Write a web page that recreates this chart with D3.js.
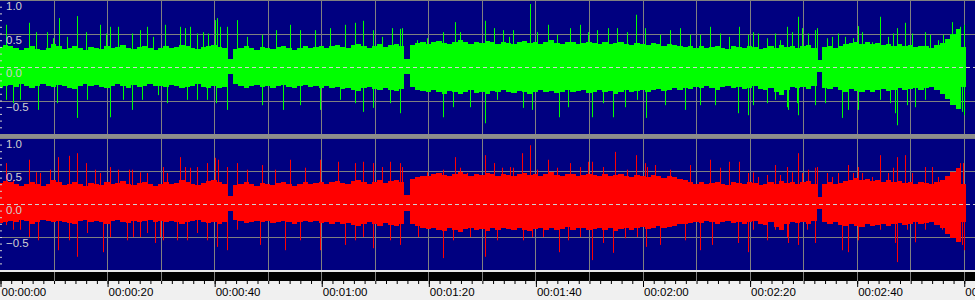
<!DOCTYPE html>
<html>
<head>
<meta charset="utf-8">
<script src="https://cdn.jsdelivr.net/npm/d3@7"></script>
<style>
body { margin: 0; background: #f0f0f0; overflow: hidden; }
svg { display: block; }
</style>
</head>
<body>
<div id="viz"></div>
<script>
// body envelope per second (t = 0..180)
var leftUpper = [
  .30,.33,.31,.28,.26,.29,.31,.27,.25,.28, .34,.32,.27,.29,.31,.28,.26,.30,.29,.27,
  .31,.28,.30,.33,.29,.27,.30,.32,.28,.26, .29,.31,.28,.30,.33,.31,.29,.27,.30,.32,
  .33,.30,.28,.12,.27,.29,.31,.28,.26,.30, .29,.27,.30,.32,.28,.26,.29,.31,.28,.30,
  .32,.29,.31,.33,.30,.28,.33,.35,.31,.29, .32,.34,.30,.33,.35,.32,.12,.33,.36,.38,
  .35,.37,.39,.36,.34,.38,.40,.37,.35,.38, .36,.39,.37,.35,.38,.36,.34,.37,.39,.36,
  .38,.35,.37,.40,.36,.34,.37,.38,.35,.36, .38,.36,.35,.37,.34,.36,.38,.35,.33,.36,
  .35,.33,.36,.34,.32,.35,.33,.31,.30,.32, .29,.31,.28,.30,.32,.29,.27,.31,.30,.28,
  .32,.30,.27,.29,.31,.28,.33,.30,.32,.29, .31,.33,.28,.10,.30,.32,.29,.31,.34,.36,
  .38,.35,.37,.34,.36,.33,.35,.32,.34,.31, .33,.30,.32,.31,.29,.33,.36,.42,.50,.56,
  .30];
var leftLower = [
  -.31,-.29,-.27,-.30,-.26,-.28,-.32,-.29,-.26,-.28, -.30,-.27,-.29,-.31,-.33,-.28,-.26,-.29,-.27,-.30,
  -.32,-.28,-.26,-.29,-.31,-.27,-.30,-.28,-.26,-.29, -.28,-.30,-.27,-.29,-.32,-.30,-.28,-.26,-.30,-.31,
  -.29,-.32,-.30,-.10,-.26,-.28,-.31,-.29,-.27,-.30, -.28,-.31,-.29,-.27,-.30,-.32,-.29,-.27,-.30,-.28,
  -.31,-.29,-.32,-.30,-.33,-.31,-.34,-.36,-.32,-.30, -.33,-.35,-.31,-.34,-.36,-.33,-.10,-.30,-.34,-.36,
  -.38,-.35,-.37,-.40,-.36,-.38,-.41,-.37,-.35,-.39, -.37,-.40,-.36,-.38,-.35,-.37,-.39,-.36,-.38,-.40,
  -.37,-.35,-.38,-.36,-.39,-.37,-.34,-.38,-.36,-.35, -.39,-.37,-.35,-.38,-.36,-.40,-.37,-.35,-.38,-.36,
  -.34,-.37,-.35,-.33,-.36,-.34,-.32,-.35,-.31,-.33, -.30,-.32,-.29,-.31,-.34,-.30,-.28,-.32,-.30,-.33,
  -.31,-.29,-.33,-.35,-.31,-.38,-.42,-.34,-.30,-.32, -.30,-.33,-.29,-.08,-.31,-.33,-.30,-.35,-.37,-.33,
  -.36,-.38,-.34,-.37,-.35,-.33,-.36,-.34,-.32,-.35, -.33,-.31,-.34,-.32,-.30,-.35,-.40,-.48,-.56,-.62,
  -.30];
var rightUpper = [
  .32,.35,.33,.30,.28,.31,.34,.30,.27,.30, .36,.33,.29,.31,.34,.30,.28,.32,.31,.29,
  .33,.30,.32,.35,.31,.29,.32,.34,.30,.28, .31,.33,.30,.32,.36,.33,.31,.29,.32,.35,
  .37,.33,.31,.12,.29,.31,.33,.30,.28,.32, .31,.29,.32,.34,.30,.28,.31,.33,.30,.32,
  .34,.31,.33,.35,.32,.30,.35,.37,.33,.31, .34,.36,.32,.35,.37,.34,.14,.38,.41,.43,
  .42,.45,.47,.44,.42,.46,.48,.45,.43,.46, .44,.47,.45,.43,.46,.44,.42,.45,.47,.44,
  .46,.43,.45,.48,.44,.42,.45,.46,.43,.44, .46,.44,.43,.45,.42,.44,.46,.43,.41,.44,
  .43,.41,.44,.42,.40,.43,.41,.38,.36,.34, .31,.33,.30,.32,.34,.31,.29,.33,.32,.30,
  .34,.32,.29,.31,.33,.30,.35,.32,.34,.31, .33,.35,.30,.10,.31,.33,.30,.32,.35,.37,
  .39,.36,.38,.35,.37,.34,.36,.33,.35,.32, .34,.31,.33,.32,.30,.34,.37,.42,.48,.55,
  .30];
var rightLower = [
  -.29,-.27,-.25,-.28,-.24,-.26,-.30,-.27,-.24,-.26, -.28,-.25,-.27,-.29,-.31,-.26,-.24,-.27,-.25,-.28,
  -.30,-.26,-.24,-.27,-.29,-.25,-.28,-.26,-.24,-.27, -.26,-.28,-.25,-.27,-.30,-.28,-.26,-.24,-.28,-.29,
  -.27,-.30,-.28,-.10,-.24,-.26,-.29,-.27,-.25,-.28, -.26,-.29,-.27,-.25,-.28,-.30,-.27,-.25,-.28,-.26,
  -.29,-.27,-.30,-.28,-.31,-.29,-.32,-.34,-.30,-.28, -.31,-.33,-.29,-.32,-.34,-.31,-.10,-.30,-.34,-.36,
  -.38,-.36,-.39,-.41,-.37,-.39,-.42,-.38,-.36,-.40, -.38,-.41,-.37,-.39,-.36,-.38,-.40,-.37,-.39,-.41,
  -.38,-.36,-.39,-.37,-.40,-.38,-.35,-.39,-.37,-.36, -.40,-.38,-.36,-.39,-.37,-.41,-.38,-.36,-.39,-.37,
  -.35,-.38,-.36,-.34,-.37,-.35,-.33,-.31,-.30,-.29, -.27,-.29,-.26,-.28,-.31,-.27,-.25,-.29,-.27,-.30,
  -.28,-.26,-.30,-.32,-.28,-.35,-.39,-.31,-.27,-.29, -.27,-.30,-.26,-.08,-.28,-.30,-.27,-.32,-.34,-.30,
  -.33,-.35,-.31,-.34,-.32,-.30,-.33,-.31,-.29,-.32, -.30,-.28,-.31,-.29,-.27,-.32,-.37,-.45,-.52,-.58,
  -.28];

// isolated peaks [seconds, amplitude]
var leftSpikes = [
  [1.1,.63],[5.5,.66],[6.7,.52],[8.8,.52],[9.9,.43],[11.1,.73],[12.5,.45],[14.3,.76],[16.0,.52],[18.7,.63],
  [19.8,.5],[20.6,.6],[22.1,.6],[24.6,.5],[26.1,.55],[27.4,.6],[28.6,.45],[30.8,.63],[33.6,.6],[34.6,.58],
  [35.5,.6],[36.8,.5],[37.9,.52],[38.8,.5],[40.2,.7],[40.5,.73],[41.1,.6],[42.4,.6],[44.3,.7],[46.1,.45],
  [48.9,.48],[51.5,.55],[54.2,.63],[56.0,.55],[58.8,.55],[61.6,.58],[64.4,.63],
  [66.3,.66],[67.8,.69],[69.7,.55],[71.3,.45],[73.2,.58],[74.7,.57],[75.1,.58],[77.9,.4],[79.7,.43],[82.7,.52],
  [85.0,.67],[85.9,.52],[90.6,.69],[92.3,.58],[93.9,.55],[95.1,.45],[95.8,.55],[99.0,.94],[100.3,.52],[102.4,.63],
  [104.0,.48],[106.5,.58],[108.3,.63],[109.8,.52],[111.5,.55],[113.6,.58],[115.2,.58],[117.1,.52],[118.8,.78],[120.5,.58],
  [123.3,.48],[125.1,.55],[127.0,.58],[128.9,.48],[130.7,.48],[132.6,.6],[134.5,.5],
  [136.2,.45],[138.0,.6],[139.7,.48],[140.6,.52],[141.6,.5],[143.3,.43],[144.8,.5],[145.7,.4],[147.0,.6],[147.9,.52],
  [149.0,.75],[149.8,.58],[150.9,.5],[152.2,.55],[152.6,.58],[154.5,.43],[155.4,.45],[156.5,.5],[157.8,.45],[159.3,.43],
  [160.3,.61],[161.0,.52],[162.9,.37],[164.4,.75],[165.9,.45],[166.8,.5],[167.5,.58],[169.0,.66],[170.3,.5],[172.8,.52],
  [173.7,.48],[175.2,.4],[176.1,.48],[177.8,.67],[179.3,.6],[180.0,.63],
  [1.1,-.49],[2.4,-.54],[3.7,-.49],[7.1,-.64],[10.6,-.54],[14.4,-.76],[16.2,-.49],[20.5,-.75],[23.0,-.49],[24.6,-.64],
  [26.5,-.49],[29.5,-.42],[31.2,-.54],[34.9,-.49],[36.8,-.49],[38.7,-.49],[40.3,-.54],[42.4,-.64],
  [49.0,-.57],[52.9,-.64],[56.0,-.57],[59.8,-.64],[63.5,-.49],
  [66.3,-.54],[67.8,-.67],[69.7,-.61],[72.8,-.54],[74.7,-.69],[82.7,-.75],[84.6,-.6],[87.8,-.6],[90.6,-.84],[92.8,-.49],
  [97.7,-.61],[99.4,-.64],[104.4,-.75],[106.1,-.6],[110.6,-.75],[112.6,-.54],[114.5,-.75],[116.7,-.6],[119.0,-.49],[120.7,-.76],
  [124.2,-.57],[127.9,-.64],[130.7,-.57],[133.5,-.57],
  [137.8,-.69],[139.7,-.72],[140.6,-.57],[143.3,-.54],[144.8,-.49],[147.0,-.6],[147.2,-.64],[148.9,-.54],[149.0,-.72],[152.2,-.57],
  [154.1,-.54],[157.3,-.76],[158.4,-.64],[160.3,-.64],[164.4,-.49],[166.2,-.54],[167.2,-.69],[167.5,-.87],[169.4,-.57],[170.9,-.6],
  [172.8,-.49],[177.8,-.49],[179.7,-.67],[180.0,-.72]
];
var rightSpikes = [
  [1.1,.62],[2.4,.36],[5.5,.67],[6.7,.48],[7.5,.47],[9.3,.52],[10.9,.71],[12.8,.73],[14.3,.77],[16.0,.62],
  [17.7,.52],[18.7,.47],[20.6,.56],[22.1,.52],[24.0,.52],[24.6,.52],[26.1,.48],[27.4,.47],[30.5,.56],[31.2,.47],
  [33.6,.71],[34.6,.56],[35.5,.55],[36.8,.56],[38.6,.62],[40.2,.7],[40.8,.67],[42.4,.56],[44.3,.62],[46.1,.52],
  [48.9,.59],[51.4,.52],[54.2,.67],[57.0,.55],[59.8,.67],[63.1,.64],
  [66.3,.62],[67.8,.64],[69.7,.62],[71.3,.56],[72.8,.64],[74.7,.62],[75.1,.56],[77.9,.36],[79.7,.48],[82.7,.52],
  [85.0,.71],[85.9,.55],[87.2,.47],[90.6,.74],[92.3,.62],[93.8,.55],[95.3,.56],[95.8,.55],[97.5,.77],[99.0,.89],
  [100.3,.52],[102.4,.67],[104.0,.55],[106.5,.62],[108.3,.56],[109.8,.64],[110.6,.64],[112.6,.56],[114.9,.79],[117.1,.52],
  [118.8,.74],[120.5,.62],[120.8,.56],
  [122.3,.59],[125.1,.52],[128.9,.59],[132.6,.67],[134.5,.55],
  [136.2,.64],[138.0,.64],[139.7,.47],[140.6,.48],[141.6,.41],[143.3,.44],[144.8,.59],[145.7,.44],[147.0,.56],[147.9,.48],
  [149.0,.77],[149.8,.47],[150.9,.52],[152.2,.55],[152.6,.56],[154.5,.47],[155.4,.41],[156.5,.47],[158.4,.59],[159.3,.47],
  [160.3,.56],[161.0,.47],[162.9,.41],[164.4,.74],[165.9,.47],[166.8,.55],[167.5,.71],[169.0,.74],[170.3,.47],[172.8,.56],
  [174.1,.56],[175.2,.41],[176.1,.36],[177.8,.47],[179.3,.62],[179.9,.62],
  [1.1,-.32],[2.4,-.39],[3.7,-.39],[5.5,-.5],[7.1,-.55],[10.9,-.7],[12.8,-.55],[14.3,-.8],[16.2,-.44],[19.3,-.73],
  [20.5,-.5],[23.7,-.55],[24.9,-.5],[26.1,-.5],[27.4,-.44],[28.9,-.59],[29.9,-.5],[30.5,-.55],[33.0,-.55],[34.9,-.55],
  [36.8,-.44],[38.6,-.55],[40.5,-.65],[42.4,-.7],[44.3,-.39],
  [48.6,-.62],[53.2,-.7],[56.0,-.55],[59.8,-.7],[64.4,-.62],
  [66.3,-.55],[67.8,-.5],[69.7,-.67],[72.8,-.55],[74.7,-.62],[78.1,-.5],[82.7,-.82],[84.6,-.55],[87.8,-.5],[90.6,-.8],
  [92.8,-.55],[97.7,-.55],[99.4,-.5],[101.4,-.5],[104.4,-.73],[106.1,-.55],[108.3,-.5],[110.6,-.85],[112.6,-.59],[114.5,-.74],
  [116.7,-.52],[119.0,-.5],[120.7,-.65],
  [123.3,-.62],[127.9,-.55],[130.7,-.7],[133.0,-.62],
  [137.8,-.59],[139.7,-.73],[140.6,-.39],[143.3,-.55],[144.8,-.39],[147.0,-.5],[147.2,-.59],[149.0,-.62],[150.7,-.39],[152.2,-.59],
  [157.3,-.7],[158.4,-.73],[160.3,-.55],[164.4,-.39],[167.2,-.59],[167.5,-.88],[169.4,-.39],[170.9,-.58],[172.8,-.39],[176.0,-.39],
  [179.7,-.62],[180.0,-.7]
];

var yLabels = [1.0, 0.5, 0.0, -0.5];
var timeLabels = [0, 20, 40, 60, 80, 100, 120, 140, 160, 180];

var width = 975, height = 300, plotBottom = 270;
var navy = "#000080", grid = "#808080";

var x = d3.scaleLinear().domain([0, 182.1]).range([0, width]);

var channels = [
  {upper: leftUpper, lower: leftLower, spikes: leftSpikes, color: "#00ff00",
   y: d3.scaleLinear().domain([-1, 1]).range([134, 0])},
  {upper: rightUpper, lower: rightLower, spikes: rightSpikes, color: "#ff0000",
   y: d3.scaleLinear().domain([-1, 1]).range([270, 138])}
];

var svg = d3.select("#viz").append("svg")
    .attr("width", width)
    .attr("height", height);

svg.append("rect").attr("width", width).attr("height", plotBottom).attr("fill", navy);

var gridSecs = d3.range(10, 182, 10);

channels.forEach(function (ch) {
  var g = svg.append("g");
  var y = ch.y;

  // grid
  g.selectAll(".vgrid").data(gridSecs).enter().append("line")
      .attr("x1", function (d) { return Math.round(x(d)) + 0.5; })
      .attr("x2", function (d) { return Math.round(x(d)) + 0.5; })
      .attr("y1", y(1)).attr("y2", y(-1))
      .attr("stroke", grid);
  g.selectAll(".hgrid").data([1, 0.5, -0.5]).enter().append("line")
      .attr("x1", 0).attr("x2", width)
      .attr("y1", function (d) { return Math.round(y(d)) + 0.5; })
      .attr("y2", function (d) { return Math.round(y(d)) + 0.5; })
      .attr("stroke", grid);

  // dense body
  g.selectAll(".body").data(ch.upper).enter().append("rect")
      .attr("x", function (d, i) { return x(Math.max(0, i - 0.5)); })
      .attr("width", function (d, i) { return x(i + 0.5) - x(Math.max(0, i - 0.5)); })
      .attr("y", function (d) { return y(d); })
      .attr("height", function (d, i) { return y(ch.lower[i]) - y(d); })
      .attr("fill", ch.color)
      .attr("shape-rendering", "crispEdges");

  // peaks
  g.selectAll(".spike").data(ch.spikes).enter().append("line")
      .attr("x1", function (d) { return Math.round(x(d[0])) + 0.5; })
      .attr("x2", function (d) { return Math.round(x(d[0])) + 0.5; })
      .attr("y1", y(0))
      .attr("y2", function (d) { return y(d[1]); })
      .attr("stroke", ch.color)
      .attr("stroke-width", 1);

  // zero line
  g.append("line")
      .attr("x1", 0).attr("x2", width)
      .attr("y1", Math.round(y(0)) + 0.5).attr("y2", Math.round(y(0)) + 0.5)
      .attr("stroke", "#d0d0d0")
      .attr("stroke-dasharray", "4,3");

  // left ruler ticks
  var ax = g.append("g").call(d3.axisRight(y)
      .tickValues(d3.range(-9, 10).map(function (d) { return d / 10; }))
      .tickSize(2).tickFormat(""));
  ax.select(".domain").remove();
  ax.selectAll("line").attr("stroke", "#d0d0d0");

  g.selectAll(".ylab").data(yLabels).enter().append("text")
      .attr("x", 6)
      .attr("y", function (d) { return y(d) + 2; })
      .attr("dominant-baseline", "hanging")
      .attr("fill", "#d0d0d0")
      .style("font-family", "'Liberation Sans', Arial, sans-serif")
      .style("font-size", "11.5px")
      .text(function (d) { return d3.format(".1f")(d); });
});

// separator between channels
svg.append("rect").attr("x", 0).attr("y", 134).attr("width", width).attr("height", 4).attr("fill", "#8c8c8c");

// bottom bands
svg.append("rect").attr("x", 0).attr("y", 270).attr("width", width).attr("height", 2).attr("fill", "#e8e8e8");
svg.append("rect").attr("x", 0).attr("y", 272).attr("width", width).attr("height", 9).attr("fill", "#000");
svg.selectAll(".bgrid").data(gridSecs).enter().append("line")
    .attr("x1", function (d) { return Math.round(x(d)) + 0.5; })
    .attr("x2", function (d) { return Math.round(x(d)) + 0.5; })
    .attr("y1", 272).attr("y2", 281)
    .attr("stroke", grid);

// time ruler
var fmt = d3.utcFormat("%H:%M:%S");
var minor = svg.append("g").attr("transform", "translate(0,281)")
    .call(d3.axisBottom(x).tickValues(d3.range(0, 182, 2)).tickSize(3).tickFormat(""));
minor.select(".domain").remove();
minor.selectAll("line").attr("stroke", "#000").attr("transform", function () {
  return "translate(0.5,0)";
});

var major = svg.append("g").attr("transform", "translate(0,281)")
    .call(d3.axisBottom(x).tickValues(timeLabels).tickSize(6)
      .tickFormat(function (d) { return fmt(new Date(d * 1000)); }));
major.select(".domain").remove();
major.selectAll("line").attr("stroke", "#000").attr("transform", "translate(0.5,0)");
major.selectAll("text")
    .attr("text-anchor", "start")
    .attr("x", 1)
    .attr("y", 7)
    .attr("fill", "#000")
    .style("font-family", "'Liberation Sans', Arial, sans-serif")
    .style("font-size", "11.5px");
</script>
</body>
</html>
